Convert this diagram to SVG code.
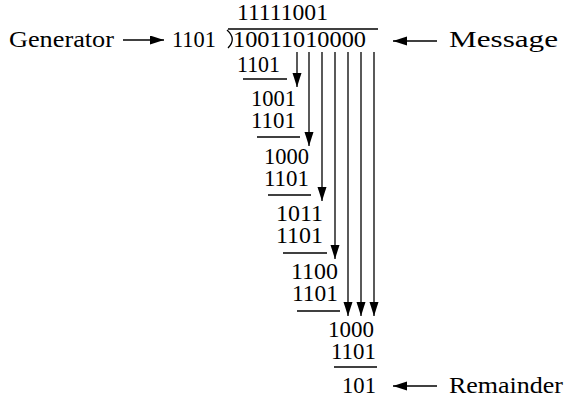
<svg xmlns="http://www.w3.org/2000/svg" width="566" height="397" viewBox="0 0 566 397">
<style>
text{font-family:"Liberation Serif","Times New Roman",serif;font-size:23px;fill:#000}
.rule{stroke:#000;stroke-width:1.3;fill:none}
.arr{stroke:#000;stroke-width:1.3;fill:none;marker-end:url(#ah)}
</style>
<defs>
<marker id="ah" markerUnits="userSpaceOnUse" markerWidth="16" markerHeight="10" refX="14" refY="4.5" orient="auto">
<path d="M0,0 L14,4.5 L0,9 Z" fill="#000"/>
</marker>
</defs>
<rect width="566" height="397" fill="#fff"/>
<g id="generator-label"><text x="9" y="47" textLength="105" lengthAdjust="spacingAndGlyphs">Generator</text></g>
<g id="generator"><text x="172" y="47" textLength="44" lengthAdjust="spacingAndGlyphs">1101</text></g>
<g id="quotient"><text x="237" y="20" textLength="91" lengthAdjust="spacingAndGlyphs">11111001</text></g>
<g id="dividend">
<path class="rule" d="M228,29 L378,29"/>
<path class="rule" d="M227,30 Q237,39 228,48"/>
<text x="233" y="47" textLength="133" lengthAdjust="spacingAndGlyphs">10011010000</text>
</g>
<g id="message-label"><text x="449" y="47" textLength="109" lengthAdjust="spacingAndGlyphs">Message</text></g>
<g id="step1">
<text x="237" y="72" textLength="43" lengthAdjust="spacingAndGlyphs">1101</text>
<path class="rule" d="M243,79 L287,79"/>
</g>
<g id="step2">
<text x="251" y="106" textLength="45" lengthAdjust="spacingAndGlyphs">1001</text>
<text x="251" y="128" textLength="45" lengthAdjust="spacingAndGlyphs">1101</text>
<path class="rule" d="M257,137 L300,137"/>
</g>
<g id="step3">
<text x="264" y="164" textLength="45" lengthAdjust="spacingAndGlyphs">1000</text>
<text x="264" y="186" textLength="45" lengthAdjust="spacingAndGlyphs">1101</text>
<path class="rule" d="M268,195 L311,195"/>
</g>
<g id="step4">
<text x="276" y="221" textLength="47" lengthAdjust="spacingAndGlyphs">1011</text>
<text x="276" y="243" textLength="47" lengthAdjust="spacingAndGlyphs">1101</text>
<path class="rule" d="M283,253 L327,253"/>
</g>
<g id="step5">
<text x="291" y="279" textLength="47" lengthAdjust="spacingAndGlyphs">1100</text>
<text x="292" y="301" textLength="46" lengthAdjust="spacingAndGlyphs">1101</text>
<path class="rule" d="M297,311 L340,311"/>
</g>
<g id="step6">
<text x="328" y="337" textLength="46" lengthAdjust="spacingAndGlyphs">1000</text>
<text x="331" y="359" textLength="45" lengthAdjust="spacingAndGlyphs">1101</text>
<path class="rule" d="M334,367 L377,367"/>
</g>
<g id="remainder"><text x="342" y="393" textLength="34" lengthAdjust="spacingAndGlyphs">101</text></g>
<g id="remainder-label"><text x="449" y="393" textLength="114" lengthAdjust="spacingAndGlyphs">Remainder</text></g>
<g id="connectors">
<path class="arr" d="M123,40 L164,40"/>
<path class="arr" d="M437,41 L393,41"/>
<path class="arr" d="M437,386 L393,386"/>
<path class="arr" d="M297,52 L297,87"/>
<path class="arr" d="M309,52 L309,146"/>
<path class="arr" d="M322,52 L322,201"/>
<path class="arr" d="M335,52 L335,259"/>
<path class="arr" d="M348,52 L348,316"/>
<path class="arr" d="M361,52 L361,316"/>
<path class="arr" d="M374,52 L374,316"/>
</g>
</svg>
